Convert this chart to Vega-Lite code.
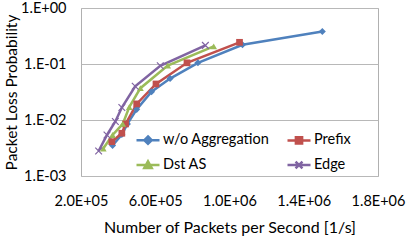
{
  "$schema": "https://vega.github.io/schema/vega-lite/v6.json",
  "width": 297,
  "height": 168,
  "autosize": {"type": "none"},
  "padding": {"left": 81, "top": 8, "right": 28, "bottom": 64},
  "config": {
    "font": "Lato",
    "view": {"stroke": "#b0b0b0", "strokeWidth": 1},
    "axis": {"labelFont": "Lato", "titleFont": "Lato", "labelColor": "#000", "titleColor": "#000", "labelFontSize": 14.5, "titleFontSize": 16, "titleFontWeight": "normal", "domain": false, "ticks": false, "tickSize": 0, "labelOverlap": false, "labelBound": false, "labelFlush": false}
  },
  "data": {"values": [
    {"s": "w/o Aggregation", "x": 370000, "p": 0.0035},
    {"s": "w/o Aggregation", "x": 420000, "p": 0.0055},
    {"s": "w/o Aggregation", "x": 450000, "p": 0.0085},
    {"s": "w/o Aggregation", "x": 500000, "p": 0.0155},
    {"s": "w/o Aggregation", "x": 580000, "p": 0.032},
    {"s": "w/o Aggregation", "x": 680000, "p": 0.055},
    {"s": "w/o Aggregation", "x": 830000, "p": 0.105},
    {"s": "w/o Aggregation", "x": 1070000, "p": 0.22},
    {"s": "w/o Aggregation", "x": 1500000, "p": 0.38},
    {"s": "Prefix", "x": 366000, "p": 0.0041},
    {"s": "Prefix", "x": 420000, "p": 0.0058},
    {"s": "Prefix", "x": 440000, "p": 0.0085},
    {"s": "Prefix", "x": 500000, "p": 0.0194},
    {"s": "Prefix", "x": 604000, "p": 0.044},
    {"s": "Prefix", "x": 771000, "p": 0.105},
    {"s": "Prefix", "x": 1054000, "p": 0.244},
    {"s": "Dst AS", "x": 320000, "p": 0.0031},
    {"s": "Dst AS", "x": 370000, "p": 0.0054},
    {"s": "Dst AS", "x": 425000, "p": 0.0085},
    {"s": "Dst AS", "x": 460000, "p": 0.017},
    {"s": "Dst AS", "x": 520000, "p": 0.037},
    {"s": "Dst AS", "x": 667000, "p": 0.094},
    {"s": "Dst AS", "x": 915000, "p": 0.207},
    {"s": "Edge", "x": 295000, "p": 0.0028},
    {"s": "Edge", "x": 340000, "p": 0.0054},
    {"s": "Edge", "x": 385000, "p": 0.0094},
    {"s": "Edge", "x": 420000, "p": 0.0167},
    {"s": "Edge", "x": 492000, "p": 0.04},
    {"s": "Edge", "x": 627000, "p": 0.093},
    {"s": "Edge", "x": 870000, "p": 0.215}
  ]},
  "encoding": {
    "x": {"field": "x", "type": "quantitative", "scale": {"domain": [200000, 1800000], "nice": false, "zero": false},
      "axis": {"title": "Number of Packets per Second [1/s]", "grid": false, "values": [200000, 600000, 1000000, 1400000, 1800000], "labelPadding": 18, "titlePadding": 12,
        "labelExpr": "datum.value >= 1000000 ? format(datum.value/1000000, '.1f') + 'E+06' : format(datum.value/100000, '.1f') + 'E+05'"}},
    "y": {"field": "p", "type": "quantitative", "scale": {"type": "log", "domain": [0.001, 1], "nice": false},
      "axis": {"title": "Packet Loss Probability", "titleFontSize": 15.5, "labelFontSize": 14.5, "grid": true, "gridColor": "#b8b8b8", "gridWidth": 1, "values": [0.001, 0.01, 0.1, 1], "labelPadding": 15, "titlePadding": 1,
        "labelExpr": "datum.value >= 1 ? '1.E+00' : '1.E-0' + format(round(-log(datum.value)/LN10), 'd')"}},
    "color": {"field": "s", "type": "nominal",
      "scale": {"domain": ["w/o Aggregation", "Prefix", "Dst AS", "Edge"], "range": ["#4F81BD", "#C0504D", "#9BBB59", "#8064A2"]},
      "legend": {"title": null, "orient": "none", "direction": "horizontal", "legendX": 54, "legendY": 119, "columns": 2, "columnPadding": 12, "rowPadding": 3, "padding": 0,
        "labelFont": "Lato", "labelFontSize": 14.5, "labelColor": "#000", "labelOffset": 2, "symbolSize": 529, "symbolStrokeWidth": 2.5,
        "encode": {"symbols": {"update": {
          "shape": {"signal": "datum.value == 'w/o Aggregation' ? 'M-1,0H1M0,-0.32L0.32,0L0,0.32L-0.32,0Z' : datum.value == 'Prefix' ? 'M-1,0H1M-0.27,-0.27H0.27V0.27H-0.27Z' : datum.value == 'Dst AS' ? 'M-1,0H1M0,-0.32L0.32,0.25L-0.32,0.25Z' : 'M-1,0H1M-0.3,-0.3L0.3,0.3M-0.3,0.3L0.3,-0.3'"},
          "fill": {"scale": "color", "field": "value"},
          "stroke": {"scale": "color", "field": "value"},
          "strokeWidth": {"value": 2.5},
          "opacity": {"value": 1}
        }}}}
    }
  },
  "layer": [
    {
      "mark": {"type": "line", "strokeWidth": 2.5},
      "encoding": {"order": {"field": "x", "type": "quantitative"}}
    },
    {
      "transform": [{"filter": "datum.s == 'w/o Aggregation'"}],
      "mark": {"type": "point", "filled": true, "shape": "diamond", "size": 50, "opacity": 1}
    },
    {
      "transform": [{"filter": "datum.s == 'Prefix'"}],
      "mark": {"type": "point", "filled": true, "shape": "square", "size": 45, "opacity": 1}
    },
    {
      "transform": [{"filter": "datum.s == 'Dst AS'"}],
      "mark": {"type": "point", "filled": true, "shape": "triangle-up", "size": 45, "opacity": 1}
    },
    {
      "transform": [{"filter": "datum.s == 'Edge'"}],
      "mark": {"type": "point", "filled": false, "shape": "M-1,-1L1,1M-1,1L1,-1", "size": 45, "strokeWidth": 1.2, "opacity": 1}
    }
  ]
}
